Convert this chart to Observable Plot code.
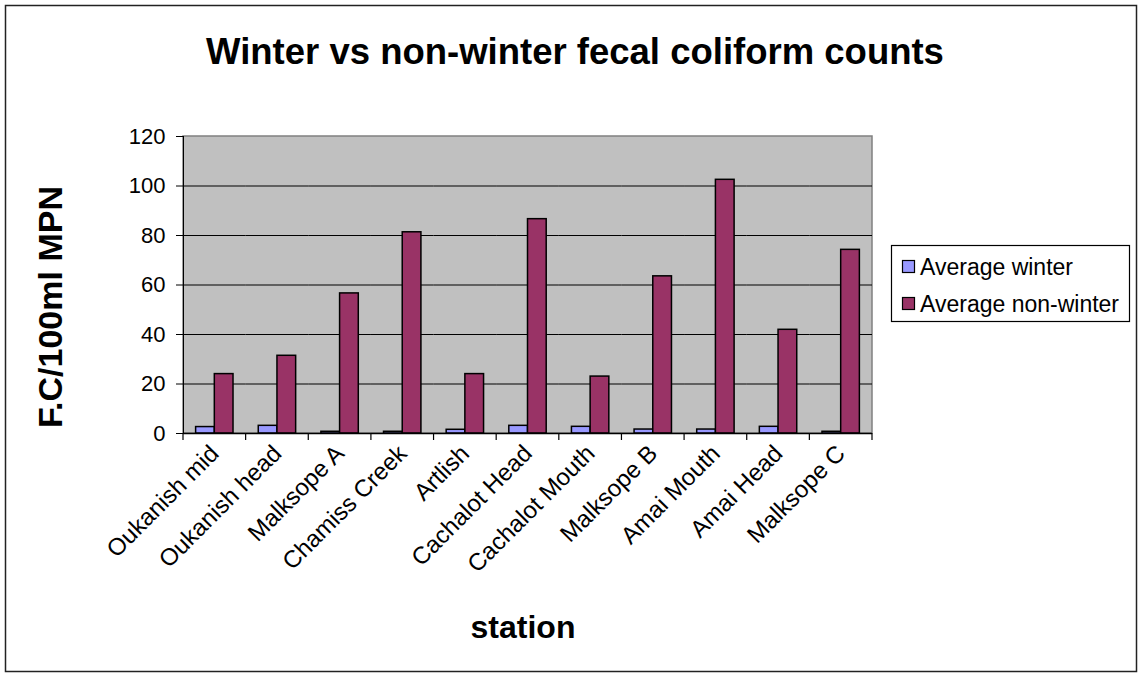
<!DOCTYPE html>
<html>
<head>
<meta charset="utf-8">
<script src="https://cdn.jsdelivr.net/npm/d3@7"></script>
<script src="https://cdn.jsdelivr.net/npm/@observablehq/plot@0.6"></script>
<style>
  html, body { margin: 0; padding: 0; background: #fff; }
  #chart svg { display: block; }
</style>
</head>
<body>
<div id="chart"></div>
<script>
// ---- data ----
const stations = ["Oukanish mid", "Oukanish head", "Malksope A", "Chamiss Creek", "Artlish",
  "Cachalot Head", "Cachalot Mouth", "Malksope B", "Amai Mouth", "Amai Head", "Malksope C"];
const averageWinter = [2.6, 3.1, 0.7, 0.7, 1.5, 3.1, 2.7, 1.6, 1.6, 2.7, 0.7];
const averageNonWinter = [24.0, 31.4, 56.6, 81.3, 24.0, 86.6, 23.0, 63.5, 102.5, 41.9, 74.2];
const seriesNames = ["Average winter", "Average non-winter"];
const seriesColors = ["#9999ff", "#993366"];
const yTicks = [0, 20, 40, 60, 80, 100, 120];
const titleText = "Winter vs non-winter fecal coliform counts";
const xTitle = "station";
const yTitle = "F.C/100ml MPN";

const rows = stations.flatMap((s, i) => [
  {station: s, series: seriesNames[0], value: averageWinter[i]},
  {station: s, series: seriesNames[1], value: averageNonWinter[i]}
]);

const W = 1138, H = 673;
const mL = 183, mR = 266, mT = 136, mB = 240;
const FONT = "'Liberation Sans', Arial, Helvetica, sans-serif";

const plot = Plot.plot({
  width: W, height: H,
  marginLeft: mL, marginRight: mR, marginTop: mT, marginBottom: mB,
  style: {fontFamily: FONT, fontSize: "22px", color: "#000", background: "transparent", overflow: "visible"},
  facet: {data: rows, x: "station", marginBottom: mB},
  fx: {domain: stations, paddingInner: 0, paddingOuter: 0, round: false, label: null,
       tickRotate: -45, tickSize: 0, tickPadding: 16},
  x: {domain: seriesNames, paddingInner: 0, paddingOuter: 0.675, round: false, axis: null},
  y: {domain: [0, 120], ticks: yTicks, tickSize: 7, tickPadding: 11, label: null, line: true},
  color: {domain: seriesNames, range: seriesColors},
  marks: [
    Plot.ruleY(yTicks.slice(1, -1), {stroke: "#000", strokeWidth: 1.2}),
    Plot.barY(rows, {x: "series", y: "value", fill: "series", stroke: "#000", strokeWidth: 1.5}),
    Plot.ruleY([0], {stroke: "#000", strokeWidth: 1.5})
  ]
});

document.getElementById("chart").appendChild(plot);
const svg = d3.select(plot);

// slightly larger category labels (as in the reference)
svg.selectAll("[aria-label='fx-axis tick label'] text, [aria-label='fx-axis'] text").attr("font-size", 24);

// plot-area background and border (behind everything)
const bg = svg.insert("g", ":first-child");
bg.append("rect").attr("x", mL).attr("y", mT).attr("width", W - mL - mR).attr("height", H - mT - mB)
  .attr("fill", "#c0c0c0").attr("stroke", "#808080").attr("stroke-width", 1.5);

// category boundary ticks on x axis, from the fx scale
const fx = plot.scale("fx");
const bw = fx.bandwidth;
const bounds = stations.map(s => fx.apply(s)).concat([fx.apply(stations[stations.length - 1]) + bw]);
const y0 = H - mB;
svg.append("g").selectAll("line").data(bounds).join("line")
  .attr("x1", d => d).attr("x2", d => d).attr("y1", y0).attr("y2", y0 + 7)
  .attr("stroke", "#000").attr("stroke-width", 1.2);

// titles
const deco = svg.append("g").attr("font-family", FONT).attr("fill", "#000");
deco.append("text").attr("x", 575).attr("y", 64).attr("text-anchor", "middle")
  .attr("font-size", 36.5).attr("font-weight", "bold").text(titleText);
deco.append("text").attr("x", 523).attr("y", 638).attr("text-anchor", "middle")
  .attr("font-size", 32).attr("font-weight", "bold").text(xTitle);
deco.append("text").attr("transform", "translate(62,307) rotate(-90)").attr("text-anchor", "middle")
  .attr("font-size", 34).attr("font-weight", "bold").text(yTitle);

// legend
const color = plot.scale("color");
const lg = svg.append("g").attr("font-family", FONT).attr("text-anchor", "start");
lg.append("rect").attr("x", 891.5).attr("y", 245.5).attr("width", 238).attr("height", 76)
  .attr("fill", "#fff").attr("stroke", "#000").attr("stroke-width", 1.2);
color.domain.forEach((name, i) => {
  const cy = 267 + i * 37;
  lg.append("rect").attr("x", 902.5).attr("y", cy - 6.5).attr("width", 12).attr("height", 12)
    .attr("fill", color.range[i]).attr("stroke", "#000").attr("stroke-width", 1.2);
  lg.append("text").attr("x", 920).attr("y", cy + 8).attr("font-size", 23)
    .attr("text-anchor", "start").attr("fill", "#000").text(name);
});

// outer chart border
svg.append("rect").attr("x", 5.5).attr("y", 5.5).attr("width", 1131).attr("height", 666)
  .attr("fill", "none").attr("stroke", "#222").attr("stroke-width", 1.5);
</script>
</body>
</html>
